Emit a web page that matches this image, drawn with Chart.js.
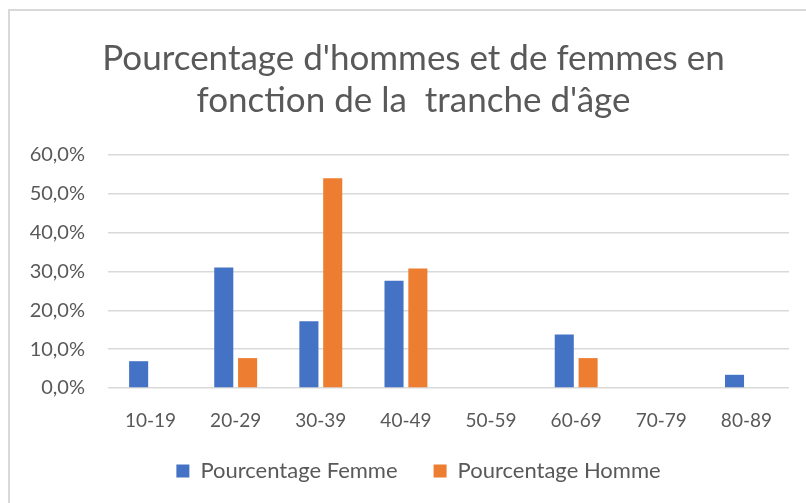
<!DOCTYPE html>
<html>
<head>
<meta charset="utf-8">
<script src="https://cdn.jsdelivr.net/npm/chart.js@4.4.0/dist/chart.umd.min.js"></script>
<style>
  html, body { margin: 0; padding: 0; background: #fff; }
  #wrap { position: relative; width: 806px; height: 503px; overflow: hidden; }
  #frame { position: absolute; left: 8px; top: 9px; width: 900px; height: 600px;
           border-left: 2px solid #d9d9d9; border-top: 2px solid #d9d9d9; box-sizing: border-box; }
  canvas { position: absolute; left: 0; top: 0; }
</style>
</head>
<body>
<div id="wrap">
  <div id="frame"></div>
  <canvas id="c" width="806" height="503"></canvas>
</div>
<script>
  // data
  const AGE_GROUPS = ['10-19','20-29','30-39','40-49','50-59','60-69','70-79','80-89'];
  const FEMME = [6.9, 31.0, 17.2, 27.6, 0, 13.8, 0, 3.4];
  const HOMME = [0, 7.7, 54.0, 30.8, 0, 7.7, 0, 0];
  const Y_TICKS = [0, 10, 20, 30, 40, 50, 60];

  const GREY = '#595959';
  const FONT = 'Lato, "Open Sans", sans-serif';

  // title and legend sit centred on the whole frame, legend a bit higher
  const placeBoxes = {
    id: 'placeBoxes',
    afterLayout(chart) {
      const t = chart.titleBlock;
      t.left = 21; t.right = 806; t.width = 785;
      const lg = chart.legend;
      lg.left = 31; lg.right = 806; lg.width = 775;
      const h = lg.height;
      lg.top = 424; lg.bottom = 424 + h;
    }
  };

  new Chart(document.getElementById('c'), {
    type: 'bar',
    data: {
      labels: AGE_GROUPS,
      datasets: [
        { label: 'Pourcentage Femme', data: FEMME, backgroundColor: '#4472C4',
          categoryPercentage: 0.56, barPercentage: 0.8 },
        { label: 'Pourcentage Homme', data: HOMME, backgroundColor: '#ED7D31',
          categoryPercentage: 0.56, barPercentage: 0.8 }
      ]
    },
    plugins: [placeBoxes],
    options: {
      responsive: false,
      animation: false,
      layout: { padding: { left: 0, right: 17, top: 0, bottom: 0 } },
      plugins: {
        title: {
          display: true,
          text: ["Pourcentage d'hommes et de femmes en", "fonction de la  tranche d'âge"],
          color: GREY,
          font: { family: FONT, size: 35, weight: 'normal', lineHeight: 1.2 },
          padding: { top: 38, bottom: 33 }
        },
        legend: {
          position: 'bottom',
          labels: {
            color: GREY, boxWidth: 13, boxHeight: 13, padding: 36,
            font: { family: FONT, size: 22 }
          }
        },
        tooltip: { enabled: false }
      },
      scales: {
        x: {
          grid: { display: false, drawTicks: false },
          border: { display: false },
          ticks: { color: GREY, font: { family: FONT, size: 19 }, padding: 21 },
          afterFit: s => { s.height = 47; }
        },
        y: {
          min: 0, max: 60,
          afterBuildTicks: s => { s.ticks = Y_TICKS.map(v => ({ value: v })); },
          afterFit: s => { s.width = 108; },
          grid: { color: '#d9d9d9', lineWidth: 1.5, drawTicks: false },
          border: { display: false },
          ticks: {
            color: GREY, padding: 23,
            font: { family: FONT, size: 20 },
            callback: v => v.toFixed(1).replace('.', ',') + '%'
          }
        }
      }
    }
  });
</script>
</body>
</html>
